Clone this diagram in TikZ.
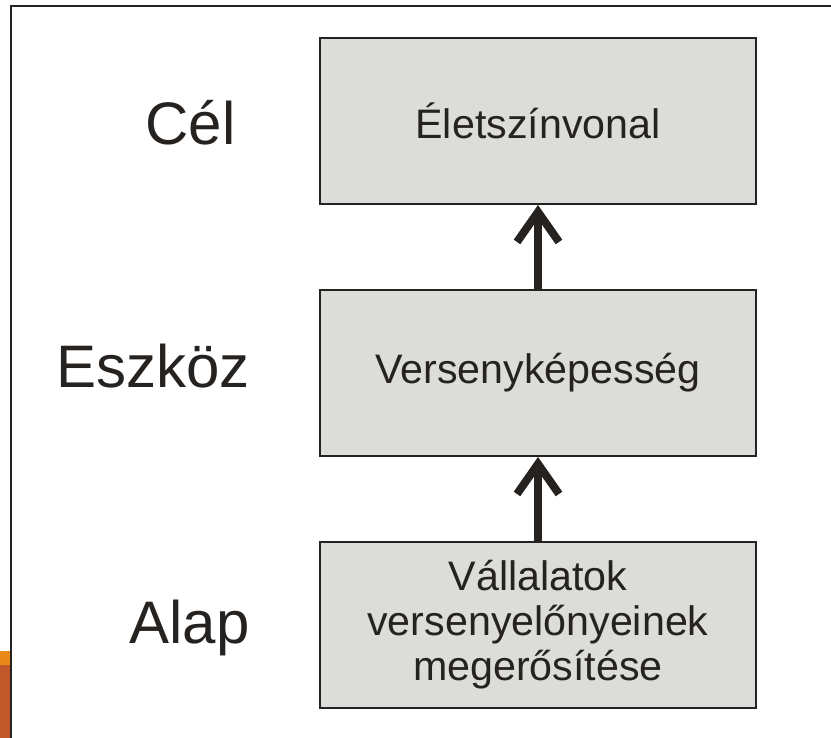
\documentclass[tikz,border=0pt]{standalone}
\usepackage{fontspec}
\setmainfont{Liberation Sans}
\usepackage{xcolor}
\usepackage{tikz}
\usetikzlibrary{arrows.meta,positioning}
\definecolor{boxgray}{HTML}{DCDCDA}
\definecolor{ink}{HTML}{252220}
\definecolor{barlight}{HTML}{E8891A}
\definecolor{bardark}{HTML}{C0582A}

\begin{document}
\begin{tikzpicture}[x=0.5pt,y=-0.5pt,node distance=42pt,
  lvl/.style={rectangle,draw=ink,line width=1pt,fill=boxgray,minimum width=218pt,minimum height=83pt,inner sep=2pt,
    align=center,text=ink,font=\fontsize{20.6}{22.5}\selectfont},
  tag/.style={anchor=base east,inner sep=0pt,text=ink,font=\fontsize{30}{36}\selectfont},
  up/.style={draw=ink,line width=4pt,-{Straight Barb[length=15pt,width=21pt]}}]
\useasboundingbox (0,0) rectangle (831,738);
% side bar and frame
\fill[barlight] (0,651) rectangle (10,665);
\fill[bardark] (0,665) rectangle (10,738);
\draw[ink,line width=1.2pt] (11,738) -- (11,6) -- (831,6);
% levels
\node[lvl] (cel) at (538,121) {\raisebox{-4pt}{Életszínvonal}};
\node[lvl,below=of cel] (eszkoz) {Versenyképesség};
\node[lvl,below=of eszkoz] (alap) {Vállalatok\\versenyelőnyeinek\\megerősítése};
\node[tag] (celtag) at (236,145) {Cél};
\node[tag] (eszkoztag) at (250,387) {Eszköz};
\node[tag] (alaptag) at (250,643) {Alap};
\foreach \a/\b in {eszkoz/cel,alap/eszkoz}{
  \draw[up] (\a.north) -- (\b.south);}
\end{tikzpicture}
\end{document}
